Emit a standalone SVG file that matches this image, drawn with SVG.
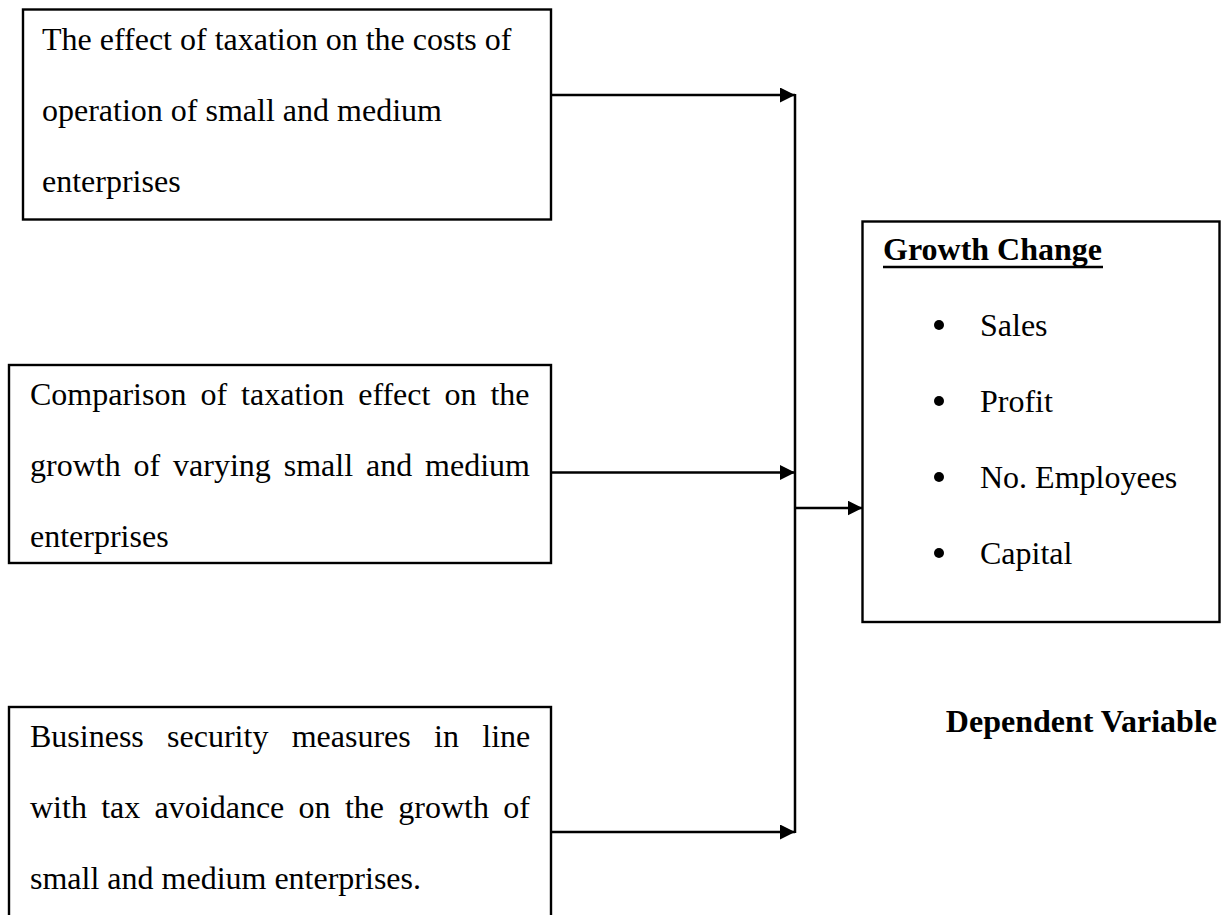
<svg xmlns="http://www.w3.org/2000/svg" width="1226" height="915" viewBox="0 0 1226 915">
<style>
.box{fill:#fff;stroke:#000;stroke-width:2.4}
.t{font-family:"Liberation Serif","Times New Roman",serif;font-size:32px;fill:#000}
.b{font-family:"Liberation Serif","Times New Roman",serif;font-size:32px;font-weight:bold;fill:#000}
.c{fill:none;stroke:#000;stroke-width:2.5}
</style>
<defs>
<marker id="ah" markerWidth="15" markerHeight="15" refX="15" refY="7.5" orient="auto" markerUnits="userSpaceOnUse" viewBox="0 0 15 15">
<path d="M0,0 L15,7.5 L0,15 z" fill="#000"/>
</marker>
</defs>
<rect width="1226" height="915" fill="#fff"/>
<g id="connectors">
<line class="c" x1="551" y1="95" x2="795" y2="95" marker-end="url(#ah)"/>
<line class="c" x1="551" y1="472.5" x2="795" y2="472.5" marker-end="url(#ah)"/>
<line class="c" x1="551" y1="832" x2="795" y2="832" marker-end="url(#ah)"/>
<line class="c" x1="795" y1="94" x2="795" y2="833"/>
<line class="c" x1="795" y1="508" x2="862.5" y2="508" marker-end="url(#ah)"/>
</g>
<g id="node1">
<rect class="box" x="23" y="9.5" width="528" height="210"/>
<text class="t" x="42" y="50">The effect of taxation on the costs of</text>
<text class="t" x="42" y="121">operation of small and medium</text>
<text class="t" x="42" y="192">enterprises</text>
</g>
<g id="node2">
<rect class="box" x="9" y="365" width="542" height="198"/>
<text class="t" x="30" y="405" word-spacing="6">Comparison of taxation effect on the</text>
<text class="t" x="30" y="476" word-spacing="4.9">growth of varying small and medium</text>
<text class="t" x="30" y="547">enterprises</text>
</g>
<g id="node3">
<rect class="box" x="9" y="707" width="542" height="240"/>
<text class="t" x="30" y="747" word-spacing="15.3">Business security measures in line</text>
<text class="t" x="30" y="818" word-spacing="6.3">with tax avoidance on the growth of</text>
<text class="t" x="30" y="889">small and medium enterprises.</text>
</g>
<g id="node4">
<rect class="box" x="862.5" y="221.5" width="357" height="400.5"/>
<text class="b" x="883" y="260">Growth Change</text>
<line x1="883" y1="267" x2="1103" y2="267" stroke="#000" stroke-width="2.5"/>
<circle cx="939" cy="325" r="5"/>
<text class="t" x="980" y="336">Sales</text>
<circle cx="939" cy="401" r="5"/>
<text class="t" x="980" y="412">Profit</text>
<circle cx="939" cy="477" r="5"/>
<text class="t" x="980" y="488">No. Employees</text>
<circle cx="939" cy="553" r="5"/>
<text class="t" x="980" y="564">Capital</text>
</g>
<g id="label">
<text class="b" x="1217" y="732" text-anchor="end">Dependent Variable</text>
</g>
</svg>
